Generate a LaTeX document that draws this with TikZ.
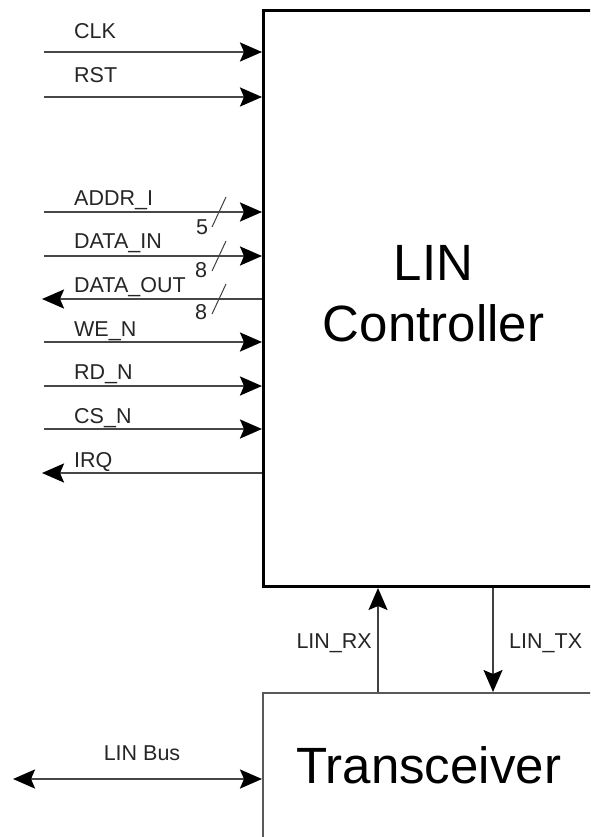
\documentclass[tikz,border=0pt]{standalone}
\usepackage{fontspec}
\setmainfont{Liberation Sans}
\usetikzlibrary{arrows.meta}
\begin{document}
\begin{tikzpicture}[x=1pt,y=-1pt,
  head/.tip={Stealth[length=22pt,width=19pt,inset=4pt,black]},
  tip/.style={-head},
  sig/.style={line width=2.4pt, draw=black!72, tip},
  lbl/.style={anchor=base west, inner sep=0pt, text=black!85, font=\fontsize{21.5}{24}\selectfont},
  num/.style={inner sep=0pt, text=black!85, font=\fontsize{21.5}{24}\selectfont},
  slash/.style={line width=1pt, draw=black!75},
  big/.style={font=\fontsize{51}{61}\selectfont, align=center, text=black, inner sep=0pt}]
\useasboundingbox (0,0) rectangle (590,837);
\clip (0,0) rectangle (590,837);
\fill[white] (0,0) rectangle (590,837);

% blocks
\node[draw=black, line width=3pt, anchor=north west, minimum width=340pt, minimum height=576pt, inner sep=0pt] (ctrl) at (262,9) {};
\node[big] (ctrltext) at ([yshift=5pt]ctrl.center) {LIN\\Controller};
\node[draw=black!65, line width=1.5pt, anchor=north west, minimum width=332pt, minimum height=146pt, inner sep=0pt, big] (trx) at (262,692) {Transceiver};

% free ends on the left
\coordinate (clk) at (44,52);
\coordinate (rst) at (44,97);
\coordinate (addr) at (44,212);
\coordinate (din) at (44,256);
\coordinate (dout) at (42,299);
\coordinate (we) at (44,342);
\coordinate (rd) at (44,386);
\coordinate (cs) at (44,429);
\coordinate (irq) at (42,473);
\coordinate (bus) at (13,779);
\coordinate (rxx) at (378,0);
\coordinate (txx) at (493,0);

% signals
\draw[sig] (clk) -- (clk -| ctrl.west);
\draw[sig] (rst) -- (rst -| ctrl.west);
\draw[sig] (addr) -- (addr -| ctrl.west);
\draw[sig] (din) -- (din -| ctrl.west);
\draw[sig] (dout -| ctrl.west) -- (dout);
\draw[sig] (we) -- (we -| ctrl.west);
\draw[sig] (rd) -- (rd -| ctrl.west);
\draw[sig] (cs) -- (cs -| ctrl.west);
\draw[sig] (irq -| ctrl.west) -- (irq);

% labels
\node[lbl] (lclk) at (74,38.5) {CLK};
\node[lbl] (lrst) at (74,82.5) {RST};
\node[lbl] (laddr) at (74,205) {ADDR\_I};
\node[lbl] (ldin) at (74,248.5) {DATA\_IN};
\node[lbl] (ldout) at (74,292.5) {DATA\_OUT};
\node[lbl] (lwe) at (74,336) {WE\_N};
\node[lbl] (lrd) at (74,379.5) {RD\_N};
\node[lbl] (lcs) at (74,423) {CS\_N};
\node[lbl] (lirq) at (74,467) {IRQ};

% bus width marks
\draw[slash] (212,227) -- (226,197);
\draw[slash] (212,271) -- (226,241);
\draw[slash] (212,314) -- (226,284);
\node[num] (n1) at (202,227) {5};
\node[num] (n2) at (201,270) {8};
\node[num] (n3) at (201,312) {8};

% controller <-> transceiver
\draw[line width=1.8pt, draw=black!75, tip] (trx.north -| rxx) -- (ctrl.south -| rxx);
\draw[line width=1.8pt, draw=black!75, tip] (ctrl.south -| txx) -- (trx.north -| txx);
\node[lbl, anchor=base east] (lrx) at (372,648) {LIN\_RX};
\node[lbl] (ltx) at (509,648) {LIN\_TX};

% LIN bus
\draw[line width=2.4pt, draw=black!72, head-head] (bus) -- (bus -| trx.west);
\node[lbl, anchor=base] (lbus) at (142,760) {LIN Bus};
\end{tikzpicture}
\end{document}
